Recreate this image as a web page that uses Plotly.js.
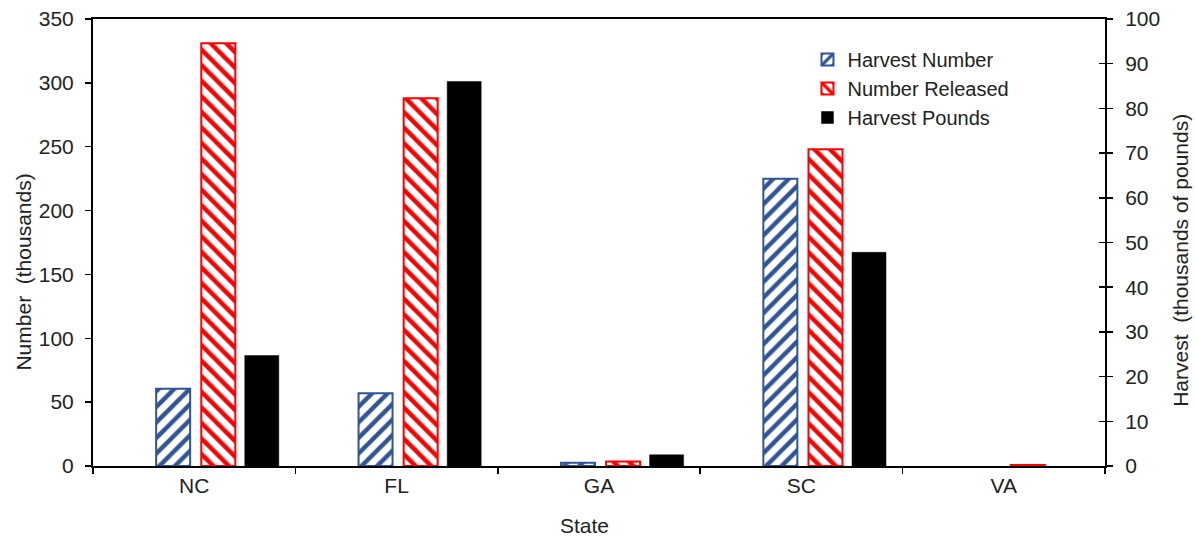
<!DOCTYPE html>
<html>
<head>
<meta charset="utf-8">
<script src="https://cdn.plot.ly/plotly-3.0.1.min.js"></script>
<style>html,body{margin:0;padding:0;background:#fff;}#chart{width:1196px;height:542px;}</style>
</head>
<body>
<div id="chart"></div>
<script>
const states = ['NC', 'FL', 'GA', 'SC', 'VA'];
const harvestNumber = [60.5, 57, 2.5, 225, null];
const numberReleased = [331, 288, 3.5, 248, 0.8];
const harvestPounds = [24.7, 86, 2.5, 47.8, null];
const seriesNames = ['Harvest Number', 'Number Released', 'Harvest Pounds'];
const leftTitle = 'Number  (thousands)';
const rightTitle = 'Harvest  (thousands of pounds)';
const xTitle = 'State';

const FONT = 'Liberation Sans, Arial, sans-serif';
const TXT = '#222222';
const blue = '#2F5597';
const red = '#FF0000';
const BW = 0.168;

const traces = [
  {
    type: 'bar', name: seriesNames[0], x: states, y: harvestNumber, yaxis: 'y',
    width: BW, offset: -0.188,
    marker: {color: '#ffffff', line: {color: blue, width: 2},
      pattern: {shape: '/', fgcolor: blue, bgcolor: '#ffffff', size: 11, solidity: 0.4, fillmode: 'replace'}}
  },
  {
    type: 'bar', name: seriesNames[1], x: states, y: numberReleased, yaxis: 'y',
    width: BW, offset: 0.035,
    marker: {color: '#ffffff', line: {color: red, width: 2},
      pattern: {shape: '\\', fgcolor: red, bgcolor: '#ffffff', size: 11, solidity: 0.4, fillmode: 'replace'}}
  },
  {
    type: 'bar', name: seriesNames[2], x: states, y: harvestPounds, yaxis: 'y2',
    width: BW, offset: 0.25,
    marker: {color: '#000000', line: {color: '#000000', width: 0.5}}
  }
];

const tickFont = {family: FONT, size: 21, color: TXT};
const titleFont = {family: FONT, size: 21, color: TXT};

const layout = {
  width: 1196, height: 542,
  margin: {l: 92.5, r: 91, t: 19, b: 76},
  paper_bgcolor: '#ffffff', plot_bgcolor: '#ffffff',
  font: {family: FONT, size: 20, color: TXT},
  barmode: 'overlay',
  showlegend: true,
  legend: {x: 0.706, y: 0.953, xanchor: 'left', yanchor: 'top', bgcolor: 'rgba(0,0,0,0)',
    font: {family: FONT, size: 20, color: TXT}, itemwidth: 30, tracegroupgap: 0},
  xaxis: {
    tickson: 'boundaries', ticks: 'outside', ticklen: 6, tickcolor: '#000', tickwidth: 1.5,
    showline: true, linecolor: '#000', linewidth: 2, mirror: true, showgrid: false,
    tickfont: tickFont
  },
  yaxis: {
    range: [0, 350], dtick: 50, ticks: 'outside', ticklen: 6, tickcolor: '#000', tickwidth: 1.5,
    showline: true, linecolor: '#000', linewidth: 2, showgrid: false, zeroline: false,
    tickfont: tickFont, ticklabelstandoff: 7
  },
  yaxis2: {
    overlaying: 'y', side: 'right', range: [0, 100], dtick: 10,
    ticks: 'outside', ticklen: 6, tickcolor: '#000', tickwidth: 1.5,
    showline: true, linecolor: '#000', linewidth: 2, showgrid: false, zeroline: false,
    tickfont: tickFont, ticklabelstandoff: 8
  },
  yaxis3: {
    overlaying: 'y', side: 'right', range: [0, 100], dtick: 10,
    ticks: 'inside', ticklen: 6, tickcolor: '#000', tickwidth: 1.5,
    showline: false, showgrid: false, zeroline: false, showticklabels: false
  },
  annotations: [
    {text: leftTitle, xref: 'paper', yref: 'paper', x: -0.0696, y: 0.434, xanchor: 'center', yanchor: 'middle',
      textangle: -90, showarrow: false, font: titleFont},
    {text: rightTitle, xref: 'paper', yref: 'paper', x: 1.075, y: 0.461, xanchor: 'center', yanchor: 'middle',
      textangle: -90, showarrow: false, font: titleFont},
    {text: xTitle, xref: 'paper', yref: 'paper', x: 0.4854, y: -0.132, xanchor: 'center', yanchor: 'middle',
      showarrow: false, font: titleFont}
  ]
};

// invisible helper trace so the third (tick-only) axis is drawn
traces.push({type: 'scatter', x: [], y: [], yaxis: 'y3', showlegend: false, hoverinfo: 'skip'});

Plotly.newPlot('chart', traces, layout, {displayModeBar: false, staticPlot: true});
</script>
</body>
</html>
